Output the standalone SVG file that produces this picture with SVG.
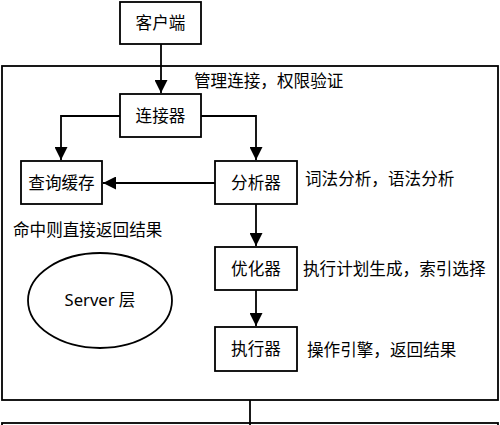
<svg xmlns="http://www.w3.org/2000/svg" width="500" height="425" viewBox="0 0 500 425">
<style>
.box{fill:#fff;stroke:#000;stroke-width:1.8}
.frame{fill:none;stroke:#000;stroke-width:1.8}
.t{font-family:"Noto Sans","Noto Sans CJK SC",sans-serif;font-size:16.6px;fill:#000}
.c{text-anchor:middle}
.ln{fill:none;stroke:#000;stroke-width:1.8}
</style>
<defs>
<marker id="ah" markerUnits="userSpaceOnUse" markerWidth="13" markerHeight="13" viewBox="0 0 12 12" refX="12" refY="6" orient="auto">
<path d="M0,0 L12,6 L0,12 Z" fill="#000"/>
</marker>
</defs>
<rect width="500" height="425" fill="#fff"/>
<g id="server-layer">
<rect class="frame" x="2" y="66" width="496" height="334"/>
<text class="t" x="194" y="87">管理连接，权限验证</text>
<text class="t" x="13" y="235.5">命中则直接返回结果</text>
<text class="t" x="305" y="185">词法分析，语法分析</text>
<text class="t" x="303" y="274.5">执行计划生成，索引选择</text>
<text class="t" x="307" y="356">操作引擎，返回结果</text>
</g>
<g id="engine-layer">
<rect class="frame" x="2" y="423" width="496" height="10"/>
</g>
<g id="client">
<rect class="box" x="120" y="2" width="81" height="42"/>
<text class="t c" x="160.5" y="29">客户端</text>
</g>
<g id="connector">
<rect class="box" x="120" y="94" width="81" height="43"/>
<text class="t c" x="160.5" y="122">连接器</text>
</g>
<g id="cache">
<rect class="box" x="21" y="161" width="81" height="43"/>
<text class="t c" x="61.5" y="189">查询缓存</text>
</g>
<g id="analyzer">
<rect class="box" x="215" y="161" width="82" height="43"/>
<text class="t c" x="256" y="189">分析器</text>
</g>
<g id="optimizer">
<rect class="box" x="215" y="247" width="82" height="43"/>
<text class="t c" x="256" y="274.5">优化器</text>
</g>
<g id="executor">
<rect class="box" x="215" y="327" width="82" height="44"/>
<text class="t c" x="256" y="355">执行器</text>
</g>
<g id="server-label">
<ellipse class="box" cx="100" cy="300.5" rx="72" ry="47.5"/>
<text class="t c" x="100" y="306">Server 层</text>
</g>
<g id="connectors">
<path class="ln" d="M161,44 V93" marker-end="url(#ah)"/>
<path class="ln" d="M120,116 H61 V160" marker-end="url(#ah)"/>
<path class="ln" d="M201,116 H256 V160" marker-end="url(#ah)"/>
<path class="ln" d="M215,183 H103" marker-end="url(#ah)"/>
<path class="ln" d="M256,204 V246" marker-end="url(#ah)"/>
<path class="ln" d="M256,290 V326" marker-end="url(#ah)"/>
<path class="ln" d="M250,400 V425"/>
</g>
</svg>
